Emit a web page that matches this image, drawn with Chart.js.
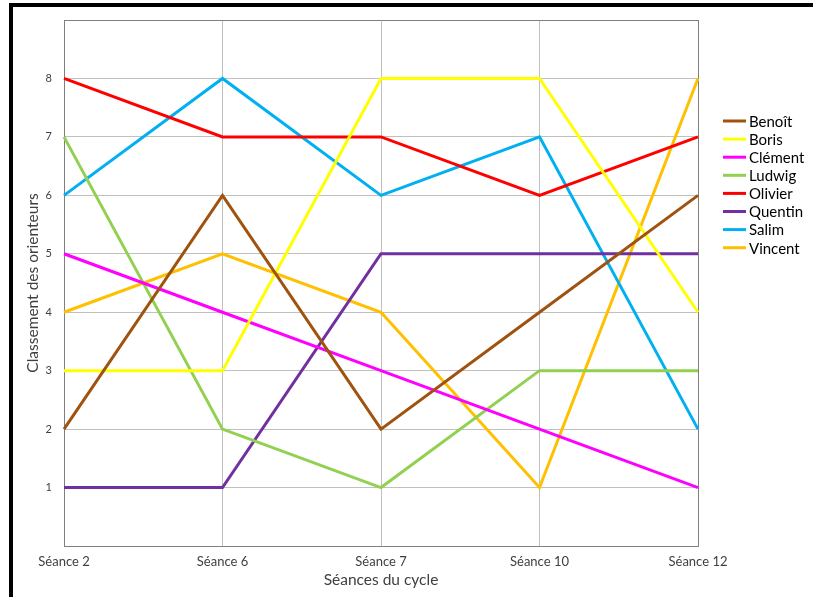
<!DOCTYPE html>
<html lang="fr">
<head>
<meta charset="utf-8">
<script src="https://cdn.jsdelivr.net/npm/chart.js@4.4.1/dist/chart.umd.min.js"></script>
<style>
  html, body { margin: 0; padding: 0; background: #fff; }
  body { width: 813px; height: 597px; overflow: hidden; position: relative; }
  #frame { position: absolute; left: 9px; top: 3px; width: 820px; height: 600px;
           border-top: 4px solid #000; border-left: 4px solid #000; }
  #wrap { position: absolute; left: 13px; top: 7px; width: 800px; height: 590px; }
</style>
</head>
<body>
<div id="frame"></div>
<div id="wrap"><canvas id="c" width="800" height="590"></canvas></div>
<script>
// Séances et classements de chaque orienteur
const seances = ['Séance 2', 'Séance 6', 'Séance 7', 'Séance 10', 'Séance 12'];
const benoit  = [2, 6, 2, 4, 6];
const boris   = [3, 3, 8, 8, 4];
const clement = [5, 4, 3, 2, 1];
const ludwig  = [7, 2, 1, 3, 3];
const olivier = [8, 7, 7, 6, 7];
const quentin = [1, 1, 5, 5, 5];
const salim   = [6, 8, 6, 7, 2];
const vincent = [4, 5, 4, 1, 8];
const yTicks  = [1, 2, 3, 4, 5, 6, 7, 8];

const series = [
  ['Benoît',  benoit,  '#A0520F'],
  ['Boris',   boris,   '#FFFF00'],
  ['Clément', clement, '#FF00FF'],
  ['Ludwig',  ludwig,  '#92D050'],
  ['Olivier', olivier, '#FF0000'],
  ['Quentin', quentin, '#7030A0'],
  ['Salim',   salim,   '#00B0F0'],
  ['Vincent', vincent, '#FFC000']
];

const FONT = 'Lato, "Open Sans", sans-serif';
const TEXT = '#404040';

// Légende dessinée à droite de la zone de tracé
const sideLegend = {
  id: 'sideLegend',
  afterDraw(chart) {
    const ctx = chart.ctx;
    const x0 = chart.chartArea.right + 25;
    const y0 = 114;
    const step = 18.1;
    ctx.save();
    ctx.font = '15px ' + FONT;
    ctx.textBaseline = 'middle';
    ctx.textAlign = 'left';
    chart.data.datasets.forEach((ds, i) => {
      const y = y0 + i * step;
      ctx.strokeStyle = ds.borderColor;
      ctx.lineWidth = 3;
      ctx.beginPath();
      ctx.moveTo(x0, y);
      ctx.lineTo(x0 + 23, y);
      ctx.stroke();
      ctx.fillStyle = '#000';
      ctx.fillText(ds.label, x0 + 26, y + 1);
    });
    ctx.restore();
  }
};

new Chart(document.getElementById('c'), {
  type: 'line',
  data: {
    labels: seances,
    datasets: series.map(([label, data, color]) => ({
      label, data,
      borderColor: color,
      backgroundColor: color,
      borderWidth: 3,
      pointRadius: 0,
      tension: 0,
      fill: false
    }))
  },
  options: {
    responsive: false,
    animation: false,
    layout: { padding: { left: 0, right: 115, top: 13, bottom: 0 } },
    plugins: { legend: { display: false }, tooltip: { enabled: false } },
    scales: {
      x: {
        offset: false,
        grid: {
          drawTicks: false,
          color: ctx => (ctx.index === 0 || ctx.index === seances.length - 1) ? '#7f7f7f' : '#c0c0c0',
          lineWidth: 1
        },
        border: { display: true, color: '#7f7f7f', width: 1 },
        ticks: { color: TEXT, font: { family: FONT, size: 13 }, padding: 8, maxRotation: 0 },
        title: { display: true, text: 'Séances du cycle', color: TEXT,
                 font: { family: FONT, size: 15.5 }, padding: { top: 0, bottom: 8 } },
        afterFit(scale) { scale.height = 51; }
      },
      y: {
        min: 0, max: 9,
        afterBuildTicks(scale) {
          scale.ticks = [0, ...yTicks, 9].map(v => ({ value: v }));
        },
        grid: {
          drawTicks: false,
          color: ctx => (ctx.tick && (ctx.tick.value === 9 || ctx.tick.value === 0)) ? '#7f7f7f' : '#c0c0c0',
          lineWidth: 1
        },
        border: { display: true, color: '#7f7f7f', width: 1 },
        ticks: {
          color: TEXT, font: { family: FONT, size: 11 }, padding: 12,
          callback: v => yTicks.includes(v) ? String(v) : ''
        },
        title: { display: true, text: 'Classement des orienteurs', color: TEXT,
                 font: { family: FONT, size: 15.5 }, padding: { top: 11, bottom: 0 } },
        afterFit(scale) {
          scale.width = 51;
          scale.paddingTop = 0;
          scale.paddingBottom = 0;
        }
      }
    }
  },
  plugins: [sideLegend]
});
</script>
</body>
</html>
